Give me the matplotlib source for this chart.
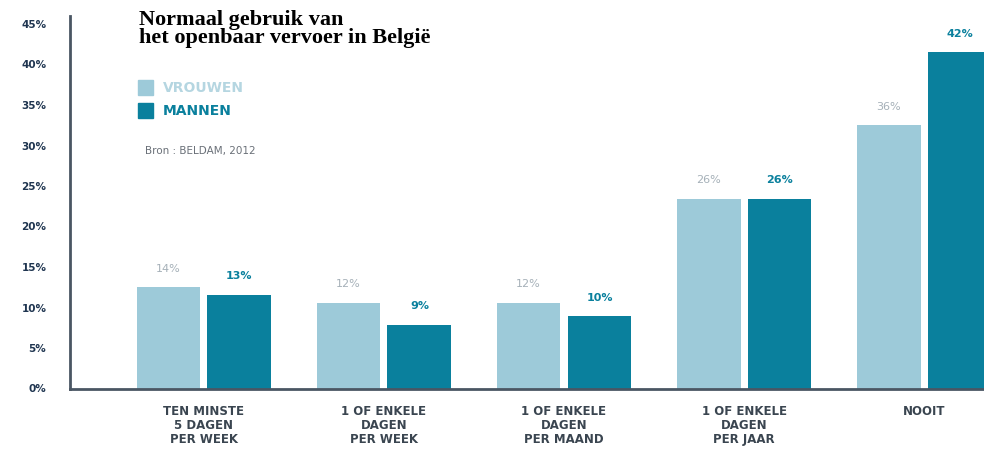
import matplotlib.pyplot as plt
import numpy as np

# --- data ---
categories = ['TEN MINSTE\n5 DAGEN\nPER WEEK', '1 OF ENKELE\nDAGEN\nPER WEEK',
              '1 OF ENKELE\nDAGEN\nPER MAAND', '1 OF ENKELE\nDAGEN\nPER JAAR', 'NOOIT']
vrouwen = [12.5, 10.6, 10.6, 23.4, 32.5]   # bar heights as drawn
mannen = [11.6, 7.9, 8.9, 23.4, 41.5]
vrouwen_labels = ['14%', '12%', '12%', '26%', '36%']
mannen_labels = ['13%', '9%', '10%', '26%', '42%']
yticks = [0, 5, 10, 15, 20, 25, 30, 35, 40, 45]

light = '#9dcad9'
dark = '#0a809d'
navy = '#1f3550'

fig = plt.figure(figsize=(9.84, 4.53), dpi=100)
ax = fig.add_axes([70 / 984, 64.5 / 453, 914 / 984, 372.6 / 453])

x = np.arange(len(categories))
w = 0.355
off = 0.197
ax.bar(x - off, vrouwen, w, color=light)
ax.bar(x + off, mannen, w, color=dark)

for i in range(len(categories)):
    ax.annotate(vrouwen_labels[i], (x[i] - off, vrouwen[i]), xytext=(0, 13.5),
                textcoords='offset points', ha='center', va='center',
                fontsize=8, color='#a5b0b8')
    ax.annotate(mannen_labels[i], (x[i] + off, mannen[i]), xytext=(0, 13.5),
                textcoords='offset points', ha='center', va='center',
                fontsize=8, color=dark, fontweight='bold')

ax.set_xlim(-0.744, 4.333)
ax.set_ylim(0, 46)
ax.set_yticks(yticks)
ax.set_yticklabels([f'{t}%' for t in yticks], fontsize=7.5, fontweight='bold', color=navy)
ax.set_xticks(x)
ax.set_xticklabels(categories, fontsize=8.5, fontweight='bold', color='#3a4550',
                   linespacing=1.1)
ax.tick_params(axis='both', length=0)
ax.tick_params(axis='y', pad=17)
ax.tick_params(axis='x', pad=12)

for s in ['top', 'right']:
    ax.spines[s].set_visible(False)
for s in ['left', 'bottom']:
    ax.spines[s].set_color('#4a5663')
    ax.spines[s].set_linewidth(2)

# title + legend
fig.text(139 / 984, 1 - 29 / 453, 'Normaal gebruik van\nhet openbaar vervoer in België',
         family='Liberation Serif', fontweight='bold', fontsize=16, color='black',
         va='center', ha='left', linespacing=0.88)

fig.patches.append(plt.Rectangle((138 / 984, 1 - 95 / 453), 15 / 984, 15 / 453,
                                 color=light, transform=fig.transFigure))
fig.patches.append(plt.Rectangle((138 / 984, 1 - 118 / 453), 15 / 984, 15 / 453,
                                 color=dark, transform=fig.transFigure))
fig.text(163 / 984, 1 - 88 / 453, 'VROUWEN', fontsize=10, fontweight='bold',
         color='#b5d6e1', va='center')
fig.text(163 / 984, 1 - 111 / 453, 'MANNEN', fontsize=10, fontweight='bold',
         color=dark, va='center')
fig.text(145 / 984, 1 - 151 / 453, 'Bron : BELDAM, 2012', fontsize=7.5,
         color='#6a7078', va='center')

plt.savefig('out.png', dpi=100)
